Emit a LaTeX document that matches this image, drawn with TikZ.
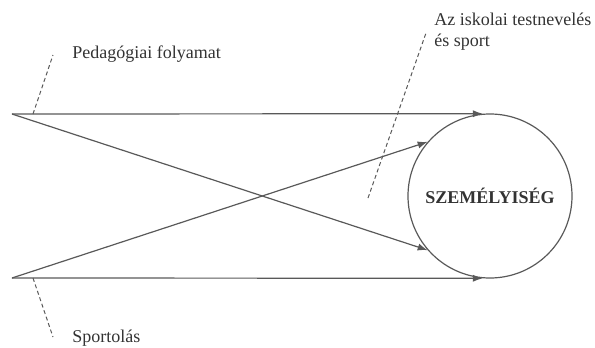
\documentclass[tikz,border=0pt]{standalone}
\usepackage{fontspec}
\setmainfont{Liberation Serif}
\usetikzlibrary{arrows.meta}

\begin{document}
\begin{tikzpicture}[x=0.5pt,y=-0.5pt]
			\tikzset{every node/.style={font=\fontsize{9}{10.5}\selectfont,text=black!80}}
			\tikzset{flow/.style={draw=black!65,line width=0.6pt,-{Latex[length=5pt,width=3.6pt]}}}
			\tikzset{pointer/.style={draw=black!65,line width=0.5pt,dash pattern=on 2pt off 1.4pt}}
			\useasboundingbox (0,0) rectangle (595,348);
			\node[circle,draw=black!65,line width=0.6pt,minimum size=82pt,inner sep=0pt,font=\fontsize{9}{10.5}\selectfont\bfseries] (szem) at (490,196) {SZEMÉLYISÉG};
			\coordinate (pedstart) at (12,114);
			\coordinate (sportstart) at (12,278);
			\draw[flow] (pedstart) -- (szem.95);
			\draw[flow] (pedstart) -- (szem.221);
			\draw[flow] (sportstart) -- (szem.139);
			\draw[flow] (sportstart) -- (szem.265);
			% labels
			\node[anchor=west,inner sep=0pt] (ped) at (72,54) {Pedagógiai folyamat};
			\node[anchor=west,inner sep=0pt] (sport) at (72,338) {Sportolás};
			\node[anchor=north west,align=left,inner sep=0pt] (iskola) at (434,13) {Az iskolai testnevelés\\és sport};
			\coordinate (pedtip) at (53,55);
			\coordinate (sporttip) at (53,337);
			\coordinate (iskolatip) at (426,33);
			\draw[pointer] (33,114) -- (pedtip);
			\draw[pointer] (33,278) -- (sporttip);
			\draw[pointer] (368,198) -- (iskolatip);
		\end{tikzpicture}
\end{document}
